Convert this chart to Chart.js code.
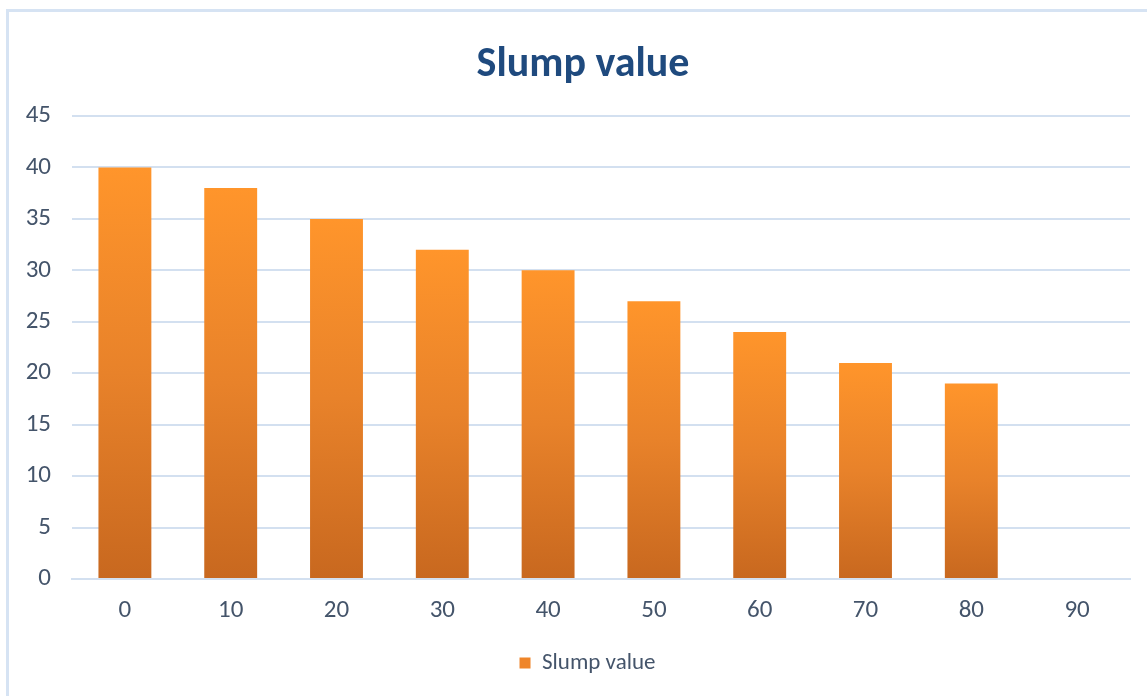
<!DOCTYPE html>
<html>
<head>
<meta charset="utf-8">
<title>Slump value</title>
<script src="https://cdn.jsdelivr.net/npm/chart.js@4/dist/chart.umd.min.js"></script>
<style>
  html, body { margin: 0; padding: 0; background: #ffffff; }
  canvas { display: block; }
</style>
</head>
<body>
<canvas id="chart" width="1147" height="696"></canvas>
<script>
// Fibre content categories and measured slump
const categories = ['0', '10', '20', '30', '40', '50', '60', '70', '80', '90'];
const slumpValues = [40, 38, 35, 32, 30, 27, 24, 21, 19, null];
const seriesName = 'Slump value';
const yTicks = { min: 0, max: 45, step: 5 };

const FONT = 'Carlito, Lato, "Open Sans", sans-serif';
const GRID = '#d3e0f0';
const TEXT = '#44546a';

// Per-bar vertical gradient: bright orange at the top, darker at the base
function barGradient(ctx) {
  const chart = ctx.chart;
  const y = chart.scales.y;
  const v = ctx.raw;
  if (!y || !chart.chartArea || v == null) return '#f08a2c';
  const top = y.getPixelForValue(v);
  const base = y.getPixelForValue(0);
  const g = chart.ctx.createLinearGradient(0, top, 0, base);
  g.addColorStop(0, '#ff952b');
  g.addColorStop(0.5, '#e8822a');
  g.addColorStop(1, '#c8681f');
  return g;
}

// Light blue frame along the top and left edges of the chart box
const frame = {
  id: 'frame',
  beforeDraw(chart) {
    const c = chart.ctx;
    c.save();
    c.fillStyle = '#ffffff';
    c.fillRect(0, 0, chart.width, chart.height);
    c.strokeStyle = '#d6e3f3';
    c.lineWidth = 3;
    c.beginPath();
    c.moveTo(7.5, chart.height);
    c.lineTo(7.5, 10.5);
    c.lineTo(chart.width, 10.5);
    c.stroke();
    c.restore();
  }
};

// Centre the title and legend over the plot region rather than the whole canvas
const centreBlocks = {
  id: 'centreBlocks',
  afterLayout(chart) {
    if (chart.titleBlock) chart.titleBlock.left += 26;
    if (chart.legend) { chart.legend.left += 17.5; chart.legend.right += 17.5; }
  }
};

new Chart(document.getElementById('chart'), {
  type: 'bar',
  data: {
    labels: categories,
    datasets: [{
      label: seriesName,
      data: slumpValues,
      backgroundColor: barGradient,
      borderWidth: 0,
      categoryPercentage: 1,
      barPercentage: 0.5
    }]
  },
  options: {
    responsive: false,
    animation: false,
    layout: { padding: { left: 10, right: 17, top: 0, bottom: 11.5 } },
    plugins: {
      title: {
        display: true,
        text: 'Slump value',
        color: '#1f4a7e',
        font: { family: FONT, size: 42, weight: 'bold' },
        padding: { top: 39.8, bottom: 25.8 }
      },
      legend: {
        position: 'bottom',
        labels: {
          color: TEXT,
          font: { family: FONT, size: 23 },
          boxWidth: 11,
          boxHeight: 11,
          padding: 12,
          generateLabels: () => [{
            text: seriesName,
            fillStyle: '#ef8529',
            strokeStyle: '#ef8529',
            lineWidth: 0,
            datasetIndex: 0,
            fontColor: TEXT
          }]
        }
      },
      tooltip: { enabled: false }
    },
    scales: {
      x: {
        grid: { display: false },
        border: { display: true, color: GRID, width: 2 },
        ticks: { color: TEXT, font: { family: FONT, size: 25 }, padding: 9 },
        afterFit: (s) => { s.height = 60.5; }
      },
      y: {
        min: yTicks.min,
        max: yTicks.max,
        grid: { color: GRID, lineWidth: 2, drawTicks: false },
        border: { display: false },
        ticks: { stepSize: yTicks.step, color: TEXT, font: { family: FONT, size: 25 }, padding: 21 },
        afterFit: (s) => { s.width = 62; }
      }
    }
  },
  plugins: [frame, centreBlocks]
});
</script>
</body>
</html>
